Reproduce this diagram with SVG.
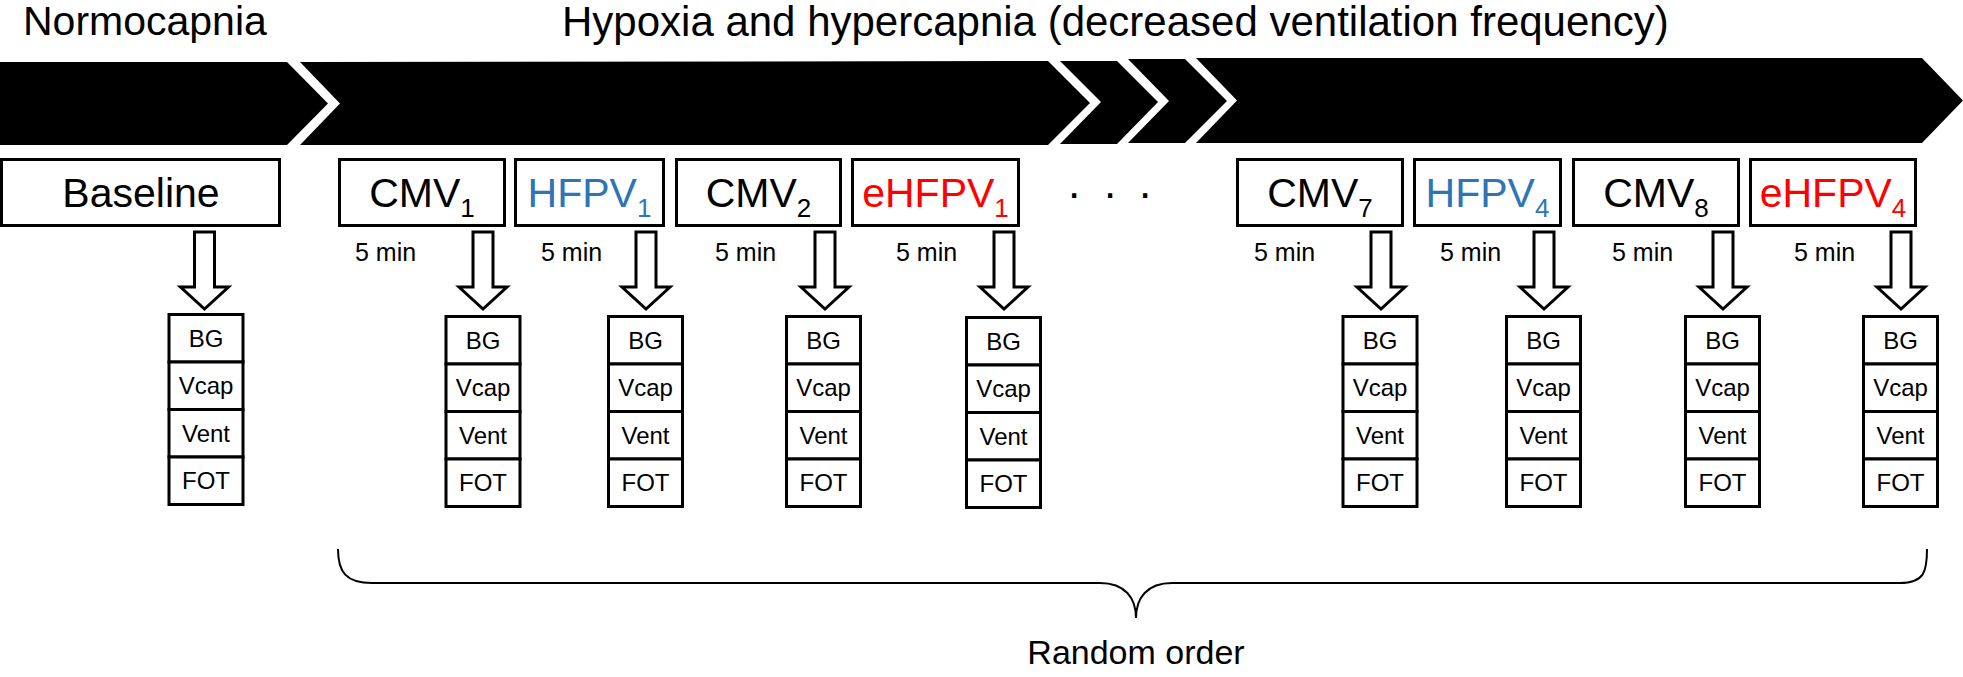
<svg xmlns="http://www.w3.org/2000/svg" xmlns:xlink="http://www.w3.org/1999/xlink" width="1963" height="677" viewBox="0 0 1963 677">
<style>
text{font-family:"Liberation Sans",Arial,sans-serif;fill:#000}
.title{font-size:41px}
.box{fill:#fff;stroke:#000;stroke-width:3}
.bt{font-size:41px;text-anchor:middle}
.sub{font-size:26px}
.blue{fill:#2E75B6}
.red{fill:#FF0000}
.min{font-size:25px}
.cell{fill:#fff;stroke:#000;stroke-width:3}
.ct{font-size:24px;text-anchor:middle}
.arr{fill:#fff;stroke:#000;stroke-width:3;stroke-linejoin:miter}
.band{fill:#000}
</style>
<defs>
<path id="harrow" class="arr" d="M-10,232 H10 V287 H24 L0,309 L-24,287 H-10 Z"/>
<g id="stack">
<rect class="cell" x="-37" y="1.5" width="74" height="47.5"/>
<rect class="cell" x="-37" y="49" width="74" height="47.5"/>
<rect class="cell" x="-37" y="96.5" width="74" height="47.5"/>
<rect class="cell" x="-37" y="144" width="74" height="47.5"/>
<text class="ct" x="0" y="34">BG</text>
<text class="ct" x="0" y="81">Vcap</text>
<text class="ct" x="0" y="129">Vent</text>
<text class="ct" x="0" y="176">FOT</text>
</g>
</defs>
<rect width="1963" height="677" fill="#fff"/>

<g id="phase-titles">
<text class="title" x="23" y="35">Normocapnia</text>
<text class="title" x="562" y="36" style="font-size:42px">Hypoxia and hypercapnia (decreased ventilation frequency)</text>
</g>

<g id="timeline">
<polygon class="band" points="0,62 287,62 328,103.5 287,145 0,145"/>
<polygon class="band" points="300,62 1048,61 1090,103 1048,145 300,145 340,103.5"/>
<polygon class="band" points="1060,61 1117,61 1158,102 1117,144 1060,144 1101,102"/>
<polygon class="band" points="1128,59 1185,59 1227,101 1185,143 1128,143 1169,101"/>
<polygon class="band" points="1196,58 1922,58 1963,100.5 1922,143 1196,143 1237,100.5"/>
</g>

<g id="baseline">
<rect class="box" x="1.5" y="159.5" width="278" height="66"/>
<text class="bt" x="141" y="207">Baseline</text>
</g>
<g id="cmv1">
<rect class="box" x="339.5" y="159.5" width="165" height="66"/>
<text class="bt" x="422" y="207">CMV<tspan class="sub" dy="10">1</tspan></text>
<text class="min" x="355" y="261">5 min</text>
</g>
<g id="hfpv1">
<rect class="box" x="515.5" y="159.5" width="148" height="66"/>
<text class="bt blue" x="589.5" y="207">HFPV<tspan class="sub" dy="10">1</tspan></text>
<text class="min" x="541" y="261">5 min</text>
</g>
<g id="cmv2">
<rect class="box" x="676.5" y="159.5" width="164" height="66"/>
<text class="bt" x="758.5" y="207">CMV<tspan class="sub" dy="10">2</tspan></text>
<text class="min" x="715" y="261">5 min</text>
</g>
<g id="ehfpv1">
<rect class="box" x="852.5" y="159.5" width="166" height="66"/>
<text class="bt red" x="935.5" y="207">eHFPV<tspan class="sub" dy="10">1</tspan></text>
<text class="min" x="896" y="261">5 min</text>
</g>
<g id="ellipsis">
<text style="font-size:44px" x="1068 1104 1139" y="198">...</text>
</g>
<g id="cmv7">
<rect class="box" x="1237.5" y="159.5" width="165" height="66"/>
<text class="bt" x="1320" y="207">CMV<tspan class="sub" dy="10">7</tspan></text>
<text class="min" x="1254" y="261">5 min</text>
</g>
<g id="hfpv4">
<rect class="box" x="1414.5" y="159.5" width="146" height="66"/>
<text class="bt blue" x="1487.5" y="207">HFPV<tspan class="sub" dy="10">4</tspan></text>
<text class="min" x="1440" y="261">5 min</text>
</g>
<g id="cmv8">
<rect class="box" x="1573.5" y="159.5" width="165" height="66"/>
<text class="bt" x="1656" y="207">CMV<tspan class="sub" dy="10">8</tspan></text>
<text class="min" x="1612" y="261">5 min</text>
</g>
<g id="ehfpv4">
<rect class="box" x="1750.5" y="159.5" width="165" height="66"/>
<text class="bt red" x="1833" y="207">eHFPV<tspan class="sub" dy="10">4</tspan></text>
<text class="min" x="1794" y="261">5 min</text>
</g>

<g id="connectors">
<use xlink:href="#harrow" x="204.5"/>
<use xlink:href="#harrow" x="483"/>
<use xlink:href="#harrow" x="646"/>
<use xlink:href="#harrow" x="825"/>
<use xlink:href="#harrow" x="1004"/>
<use xlink:href="#harrow" x="1381"/>
<use xlink:href="#harrow" x="1544"/>
<use xlink:href="#harrow" x="1723"/>
<use xlink:href="#harrow" x="1901"/>
</g>

<g id="stack-baseline"><use xlink:href="#stack" transform="translate(206,313)"/></g>
<g id="stack-cmv1"><use xlink:href="#stack" transform="translate(483,315)"/></g>
<g id="stack-hfpv1"><use xlink:href="#stack" transform="translate(645.5,315)"/></g>
<g id="stack-cmv2"><use xlink:href="#stack" transform="translate(823.5,315)"/></g>
<g id="stack-ehfpv1"><use xlink:href="#stack" transform="translate(1003.5,316)"/></g>
<g id="stack-cmv7"><use xlink:href="#stack" transform="translate(1380,315)"/></g>
<g id="stack-hfpv4"><use xlink:href="#stack" transform="translate(1543.5,315)"/></g>
<g id="stack-cmv8"><use xlink:href="#stack" transform="translate(1722.5,315)"/></g>
<g id="stack-ehfpv4"><use xlink:href="#stack" transform="translate(1900.5,315)"/></g>

<g id="random-order">
<path d="M338,549 C338,572 346,583 372,583 L1100,583 C1125,583 1136,598 1136,618 C1136,598 1147,583 1172,583 L1900,583 C1924,583 1927,572 1927,549" fill="none" stroke="#000" stroke-width="2"/>
<text style="font-size:34px;text-anchor:middle" x="1136" y="664">Random order</text>
</g>
</svg>
